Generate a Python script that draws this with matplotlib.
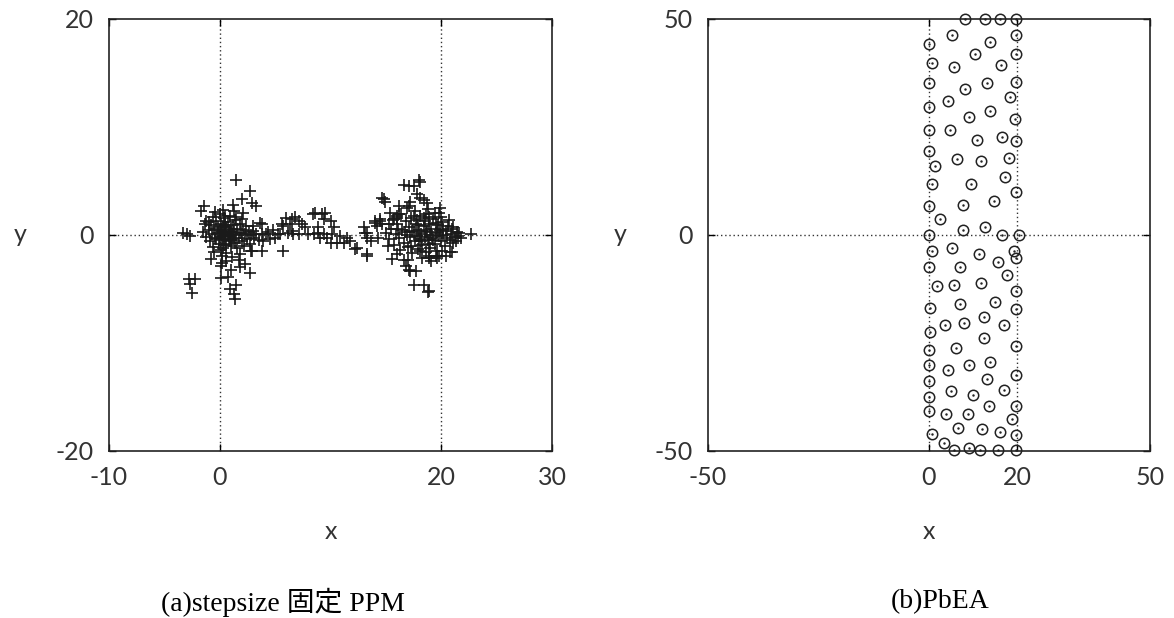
import numpy as np
import matplotlib.pyplot as plt

plt.rcParams['axes.unicode_minus'] = False

# === data ===
# (a) stepsize-fixed PPM: points around x=0, a bridge, points around x=20
ppm_left = [
    (1.5, 5.1), (2.7, 4.1), (2.0, 3.3), (2.9, 3.0), (3.3, 2.7), (-1.4, 2.7), (-1.7, 2.2),
    (1.2, 2.8), (2.1, 2.0), (-0.45, 2.1), (-3.3, 0.15), (-2.7, -0.1), (-0.8, -2.2),
    (2.8, -1.5), (3.8, -1.5), (0.15, -2.9), (1.06, -3.2), (1.8, -3.0), (2.3, -2.7),
    (2.7, -3.5), (0.75, -3.9), (0.1, -4.0), (1.5, -4.6), (-2.2, -4.1), (-2.7, -4.5),
    (-2.5, -5.4), (0.9, -5.0), (1.3, -5.5), (1.36, -5.9), (-1.2, 1.3), (0.45, 1.75),
    (3.6, 1.1), (3.0, 0.8), (-2.8, -4.1), (-3.0, 0.1), (2.9, -1.5),
    (-1.5, 0.3), (-1.2, -0.2), (-1.0, 0.5), (-0.9, -0.6), (-0.8, 0.9), (-0.7, 0.1),
    (-0.6, -1.1), (-0.5, 0.6), (-0.4, -0.3), (-0.3, 1.3), (-0.2, 0.2), (-0.1, -0.8),
    (0.0, 0.5), (0.0, -0.2), (0.1, 1.0), (0.1, -1.4), (0.2, 0.3), (0.2, -0.5),
    (0.3, 0.8), (0.3, -0.1), (0.4, 1.6), (0.4, -0.9), (0.5, 0.2), (0.5, -0.4),
    (0.6, 0.7), (0.6, -1.7), (0.7, 0.0), (0.7, 1.2), (0.8, -0.6), (0.8, 0.4),
    (0.9, -0.2), (0.9, 1.8), (1.0, 0.6), (1.0, -1.0), (1.1, 0.1), (1.1, -2.0),
    (1.2, 0.9), (1.2, -0.4), (1.3, 0.3), (1.4, -0.7), (1.4, 1.4), (1.5, 0.0),
    (1.6, -1.2), (1.6, 0.6), (1.7, -0.3), (1.8, 1.0), (1.8, -1.8), (1.9, 0.2),
    (2.0, -0.6), (2.1, 0.5), (2.2, -1.0), (2.3, 0.1), (2.4, 0.8), (2.5, -0.4),
    (2.6, 0.3), (2.7, -0.8), (2.8, 0.0), (3.0, 0.4), (3.1, -0.3), (3.3, 0.1),
    (3.5, -0.5), (-0.5, -1.6), (0.0, 1.9), (0.3, 2.3), (0.6, -2.4), (-1.0, 1.2),
    (1.3, 2.2), (0.2, -2.6), (2.0, 1.5), (-0.3, -0.4), (0.4, 0.1), (0.8, -0.1),
    (0.1, 0.4), (0.5, 0.9), (0.9, 0.3), (-0.2, 0.7), (0.6, -0.8), (1.0, -0.5),
    (0.3, -1.2), (1.5, 1.7), (-1.3, 1.0), (-0.6, 1.7), (0.2, -1.9), (1.7, -2.3),
]

ppm_bridge = [
    (3.8, 1.0), (3.8, 0.06), (3.9, -0.55), (4.2, 0.06), (4.8, 0.5), (5.0, -0.25),
    (5.3, 0.06), (4.5, -0.4), (5.7, -1.5), (5.6, 1.0), (6.0, 1.6), (6.5, 1.45),
    (6.8, 1.66), (6.3, 1.0), (6.2, 0.2), (6.6, 0.06), (7.2, 0.06), (7.4, 1.0),
    (7.7, 0.7), (8.0, 0.06), (8.5, 0.06), (8.9, 0.2), (9.06, -0.25), (8.45, 1.9),
    (9.2, 1.9), (9.5, 2.06), (9.4, 1.45), (10.0, 1.3), (10.3, 0.7), (8.9, 0.7),
    (9.4, 0.06), (9.7, -0.25), (10.1, 0.06), (10.0, -0.7), (10.6, -0.7), (11.2, -0.7),
    (11.8, -0.55), (10.9, -0.1), (11.5, -0.25), (12.2, -1.3), (13.3, -1.8),
    (13.0, 0.7), (13.3, 0.2), (14.0, 1.3), (14.2, 0.8), (13.3, -0.25), (13.7, -0.55),
    (14.3, -0.25), (5.7, 0.8), (7.2, 1.3), (6.5, 0.4), (5.4, 0.06), (8.6, 2.06),
    (13.1, 0.2), (14.5, 1.45), (14.65, 1.0), (12.4, -1.2), (4.4, 0.3),
]

ppm_right = [
    (18.0, 5.1), (18.1, 4.9), (16.6, 4.6), (17.1, 4.5), (17.5, 4.5), (14.65, 3.4),
    (14.95, 3.1), (16.2, 2.7), (17.1, 2.7), (17.8, 3.8), (18.1, 3.4), (18.7, 3.0),
    (17.2, 3.1), (15.4, 2.06), (16.2, 1.9), (19.9, 2.5), (19.8, 2.06), (22.65, 0.06),
    (13.3, -1.9), (15.55, -2.25), (17.06, -3.2), (17.7, -3.3), (17.5, -4.6),
    (18.4, -4.6), (18.8, -5.3), (21.0, -1.6), (18.9, -2.1), (19.6, -2.1),
    (18.4, 3.2), (16.9, 2.5), (16.0, 1.75), (14.0, 1.1), (14.5, 1.3), (17.5, 1.75),
    (18.4, 1.6), (18.9, 1.66), (16.6, -2.3), (16.8, -2.9), (17.2, -3.3),
    (18.9, -5.2), (18.9, -1.9), (19.5, -1.9), (20.1, -1.5), (20.8, -1.6),
    (21.6, 0.2), (21.75, -0.25), (21.3, -0.55), (21.1, 0.7), (15.25, 1.0),
    (15.7, 1.45), (16.0, 1.6), (14.8, 3.3),
    (15.0, 0.2), (15.3, -0.4), (15.5, 0.6), (15.7, -0.9), (15.9, 0.1), (16.0, 1.0),
    (16.2, -0.3), (16.3, -1.4), (16.5, 0.5), (16.6, -0.7), (16.8, 1.3), (16.9, 0.0),
    (17.0, -1.1), (17.1, 0.7), (17.2, -0.2), (17.3, 1.6), (17.4, -1.7), (17.5, 0.3),
    (17.6, -0.6), (17.7, 1.0), (17.8, -0.1), (17.9, -1.3), (18.0, 0.5), (18.0, -0.4),
    (18.1, 1.8), (18.2, 0.1), (18.3, -0.9), (18.4, 0.8), (18.5, -0.2), (18.5, 1.3),
    (18.6, -1.6), (18.7, 0.4), (18.8, -0.5), (18.9, 1.0), (19.0, 0.0), (19.0, -1.2),
    (19.1, 0.6), (19.2, -0.3), (19.3, 1.5), (19.4, -0.8), (19.5, 0.2), (19.6, -1.5),
    (19.7, 0.9), (19.8, -0.1), (19.9, 0.5), (20.0, -0.6), (20.1, 1.2), (20.2, 0.0),
    (20.3, -1.0), (20.4, 0.4), (20.5, -0.3), (20.6, 0.8), (20.8, -0.5), (20.9, 0.1),
    (21.0, 0.6), (21.2, -0.2), (21.4, 0.3), (21.5, -0.1), (16.4, 1.9), (17.6, 2.2),
    (18.3, -2.1), (19.4, 2.0), (17.0, -2.3), (20.0, 1.7), (16.0, -1.8), (18.8, 2.4),
    (19.8, -1.9), (15.6, 1.4), (17.9, 0.9), (18.6, 0.3), (19.3, -0.5), (18.2, -0.6),
    (17.4, 0.4), (19.6, 0.3), (20.2, 0.6), (18.9, -0.8), (17.8, 1.4), (16.7, 0.3),
    (21.1, -0.7), (15.2, -1.0), (20.7, 1.4), (19.1, -2.4), (17.3, -1.0), (18.6, 1.9),
    (20.4, -1.9), (16.1, 0.6), (19.5, 1.1), (18.1, -1.5),
]

# (b) PbEA points
pbea_points = [
    (8.1, 50), (12.6, 50), (16.0, 50), (19.6, 50), (5.1, 46.2), (19.6, 46.2),
    (0.1, 44.2), (13.9, 44.6), (19.6, 42.0), (10.3, 42.0), (0.6, 39.8), (5.6, 38.9),
    (16.2, 39.3), (0.1, 35.2), (13.2, 35.3), (19.7, 35.5), (8.1, 33.8), (18.4, 31.9),
    (4.2, 31.1), (0.0, 29.7), (13.9, 28.6), (9.0, 27.2), (19.5, 26.9), (0.0, 24.4),
    (4.7, 24.2), (10.9, 22.0), (16.6, 22.6), (19.7, 21.7), (0.0, 19.4), (6.4, 17.6),
    (11.8, 17.1), (18.0, 17.9), (1.35, 15.9), (17.3, 13.5), (0.7, 11.8), (9.4, 11.9),
    (19.7, 9.9), (0.0, 6.7), (7.7, 6.9), (14.8, 7.9), (2.5, 3.8), (7.7, 1.1),
    (12.6, 1.8), (0.0, 0.0), (16.5, 0.0), (20.4, 0.0), (0.6, -3.8), (5.2, -2.9),
    (11.2, -4.3), (19.2, -3.7), (19.7, -5.3), (0.0, -7.3), (7.0, -7.4), (15.6, -6.2),
    (17.6, -9.3), (1.7, -11.7), (5.6, -11.5), (11.7, -11.2), (19.7, -12.9),
    (0.2, -16.8), (7.0, -15.9), (15.0, -15.5), (19.7, -17.2), (3.6, -20.8),
    (7.9, -20.4), (12.4, -18.9), (16.9, -20.8), (0.2, -22.5), (12.4, -23.9),
    (0.0, -26.6), (6.0, -26.2), (19.6, -25.7), (0.0, -30.0), (4.2, -31.3),
    (9.0, -30.0), (13.7, -29.3), (0.1, -33.7), (13.2, -33.3), (19.7, -32.3),
    (0.0, -37.6), (4.9, -36.2), (10.0, -37.0), (16.9, -35.9), (0.1, -40.8),
    (3.8, -41.4), (8.9, -41.4), (13.6, -39.5), (19.7, -39.5), (18.7, -42.6),
    (6.6, -44.7), (12.1, -45.0), (16.0, -45.7), (0.6, -46.1), (19.7, -46.4),
    (3.4, -48.1), (5.7, -49.8), (9.0, -49.3), (11.6, -49.8), (15.6, -49.8),
    (19.7, -49.8),
]

left_xlim, left_ylim = (-10, 30), (-20, 20)
left_xticks, left_yticks = [-10, 0, 20, 30], [-20, 0, 20]
right_xlim, right_ylim = (-50, 50), (-50, 50)
right_xticks, right_yticks = [-50, 0, 20, 50], [-50, 0, 50]
guide_x = [0, 20]
captions = ["(a)stepsize 固定 PPM", "(b)PbEA"]

W, H = 1174, 618
fig = plt.figure(figsize=(W / 100, H / 100), dpi=100)

tick_font = {'family': ['Lato', 'DejaVu Sans'], 'size': 18, 'weight': 'normal'}
text_col = '#333333'


def style_axes(ax, xlim, ylim, xticks, yticks):
    ax.set_xlim(*xlim)
    ax.set_ylim(*ylim)
    ax.set_xticks(xticks)
    ax.set_yticks(yticks)
    ax.axhline(0, color='#333333', lw=1, ls=(0, (1, 2)), zorder=1)
    for gx in guide_x:
        ax.axvline(gx, color='#333333', lw=1, ls=(0, (1, 2)), zorder=1)
    ax.tick_params(direction='in', length=5, width=1, top=True, right=True,
                   labelcolor=text_col, pad=11)
    for lab in ax.get_xticklabels() + ax.get_yticklabels():
        lab.set_fontfamily(tick_font['family'])
        lab.set_fontsize(tick_font['size'])
        lab.set_fontweight(tick_font['weight'])
    for sp in ax.spines.values():
        sp.set_linewidth(1.2)
        sp.set_color('#222222')
    ax.set_xlabel('x', fontdict=tick_font, color=text_col)
    ax.set_ylabel('y', fontdict=tick_font, color=text_col, rotation=0, va='center')


# === left panel ===
axL = fig.add_axes([109 / W, 1 - 451 / H, 443 / W, 432 / H])
style_axes(axL, left_xlim, left_ylim, left_xticks, left_yticks)
for grp in (ppm_left, ppm_bridge, ppm_right):
    px, py = zip(*grp)
    axL.plot(px, py, ls='none', marker='+', ms=8.5, mew=1.2, color='#1a1a1a', zorder=3)
axL.xaxis.set_label_coords(0.5, -69 / 432)
axL.yaxis.set_label_coords(-89 / 443, 0.5)

# === right panel ===
axR = fig.add_axes([708 / W, 1 - 451 / H, 442 / W, 432 / H])
style_axes(axR, right_xlim, right_ylim, right_xticks, right_yticks)
bx, by = zip(*pbea_points)
axR.plot(bx, by, ls='none', marker='o', ms=7.5, mfc='none', mec='#222222', mew=1.1,
         clip_on=False, zorder=3)
axR.plot(bx, by, ls='none', marker='.', ms=1.5, color='#222222', clip_on=False, zorder=3)
axR.xaxis.set_label_coords(0.5, -69 / 432)
axR.yaxis.set_label_coords(-88 / 442, 0.5)

cap_font = ['Liberation Serif', 'Noto Sans CJK JP']
fig.text(283 / W, 1 - 602 / H, captions[0], ha='center', va='center',
         fontsize=20, family=cap_font)
fig.text(940 / W, 1 - 602 / H, captions[1], ha='center', va='center',
         fontsize=20, family=cap_font)

fig.savefig('out.png', dpi=100)
